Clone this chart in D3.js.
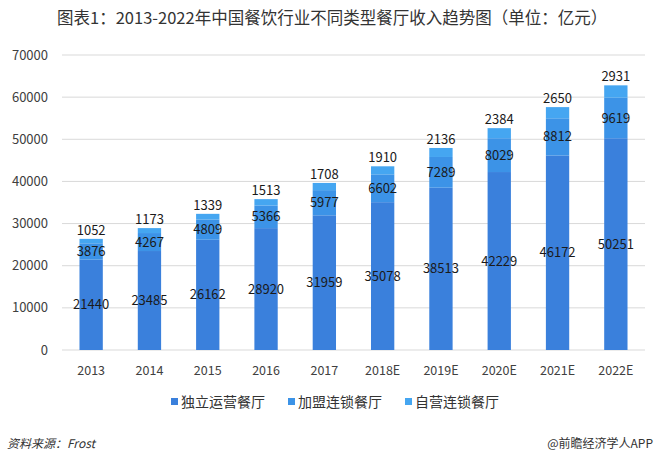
<!DOCTYPE html>
<html>
<head>
<meta charset="utf-8">
<script src="https://cdn.jsdelivr.net/npm/d3@7"></script>
<style>
  body { margin: 0; background: #fff; }
  text { font-family: "Noto Sans CJK SC", "Noto Sans", sans-serif; }
</style>
</head>
<body>
<div id="chart"></div>
<script>
var years = ["2013", "2014", "2015", "2016", "2017", "2018E", "2019E", "2020E", "2021E", "2022E"];
var independent = [21440, 23485, 26162, 28920, 31959, 35078, 38513, 42229, 46172, 50251];
var franchise = [3876, 4267, 4809, 5366, 5977, 6602, 7289, 8029, 8812, 9619];
var selfChain = [1052, 1173, 1339, 1513, 1708, 1910, 2136, 2384, 2650, 2931];
var seriesNames = ["独立运营餐厅", "加盟连锁餐厅", "自营连锁餐厅"];
var yTicks = [0, 10000, 20000, 30000, 40000, 50000, 60000, 70000];

var W = 660, H = 464;
var colors = ["#3a80dc", "#3c93e7", "#45a6f1"];

var svg = d3.select("#chart").append("svg")
    .attr("width", W).attr("height", H);

svg.append("rect").attr("width", W).attr("height", H).attr("fill", "#fff");

// title
svg.append("text")
    .attr("x", 57).attr("y", 24)
    .attr("font-size", "16.5px")
    .attr("fill", "#333")
    .text("图表1：2013-2022年中国餐饮行业不同类型餐厅收入趋势图（单位：亿元）");

var x = d3.scaleBand().domain(years).range([62, 645]).paddingInner(0.6).paddingOuter(0.3);
var y = d3.scaleLinear().domain([0, 70000]).range([350, 55]);

// gridlines
svg.append("g").selectAll("line")
    .data(yTicks)
    .join("line")
    .attr("x1", 62).attr("x2", 645)
    .attr("y1", d => y(d)).attr("y2", d => y(d))
    .attr("stroke", "#d9d9d9").attr("stroke-width", 1);

// y tick labels
svg.append("g").selectAll("text")
    .data(yTicks)
    .join("text")
    .attr("x", 48).attr("y", d => y(d))
    .attr("dy", "0.35em")
    .attr("text-anchor", "end")
    .attr("font-size", "13px")
    .attr("fill", "#404040")
    .text(d => d);

// stack the data
var rows = years.map(function(yr, i) {
  return {year: yr, a: independent[i], b: franchise[i], c: selfChain[i]};
});
var stack = d3.stack().keys(["a", "b", "c"])(rows);

var layer = svg.append("g").selectAll("g")
    .data(stack)
    .join("g")
    .attr("fill", (d, i) => colors[i]);

layer.selectAll("rect")
    .data(d => d)
    .join("rect")
    .attr("x", d => x(d.data.year))
    .attr("width", x.bandwidth())
    .attr("y", d => y(d[1]))
    .attr("height", d => y(d[0]) - y(d[1]));

// value labels
stack.forEach(function(s, k) {
  svg.append("g").selectAll("text")
    .data(s)
    .join("text")
    .attr("x", d => x(d.data.year) + x.bandwidth() / 2)
    .attr("y", d => k == 2 ? y(d[1]) - 4 : y((d[0] + d[1]) / 2))
    .attr("dy", k == 2 ? "0" : "0.35em")
    .attr("text-anchor", "middle")
    .attr("font-size", "13px")
    .attr("fill", "#1a1a1a")
    .text(d => d[1] - d[0]);
});

// x axis labels
svg.append("g").selectAll("text")
    .data(years)
    .join("text")
    .attr("x", d => x(d) + x.bandwidth() / 2)
    .attr("y", 375)
    .attr("text-anchor", "middle")
    .attr("font-size", "12.5px")
    .attr("fill", "#404040")
    .text(d => d);

// legend
var legX = [171, 288, 405];
var leg = svg.append("g").selectAll("g")
    .data(seriesNames)
    .join("g")
    .attr("transform", (d, i) => "translate(" + legX[i] + ",402)");
leg.append("rect")
    .attr("x", 0).attr("y", -4).attr("width", 7).attr("height", 7)
    .attr("fill", (d, i) => colors[i]);
leg.append("text")
    .attr("x", 10).attr("y", 0)
    .attr("dy", "0.35em")
    .attr("font-size", "14px")
    .attr("fill", "#333")
    .text(d => d);

// footer
svg.append("text")
    .attr("x", 7).attr("y", 448)
    .attr("font-size", "12px")
    .attr("font-style", "italic")
    .attr("fill", "#333")
    .text("资料来源：Frost");
svg.append("text")
    .attr("x", 653).attr("y", 448)
    .attr("text-anchor", "end")
    .attr("font-size", "12px")
    .attr("fill", "#333")
    .text("@前瞻经济学人APP");
</script>
</body>
</html>
